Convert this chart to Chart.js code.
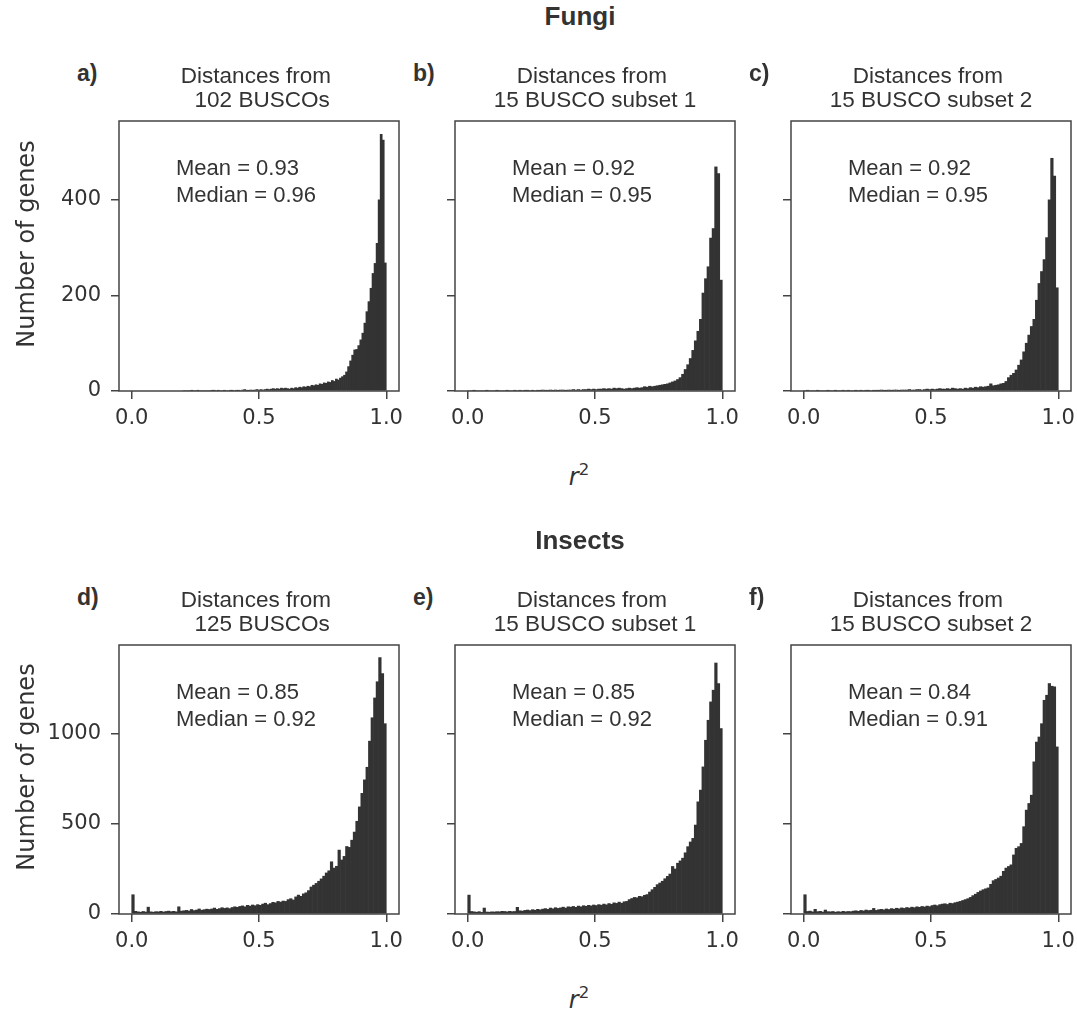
<!DOCTYPE html>
<html><head><meta charset="utf-8">
<script src="https://cdn.jsdelivr.net/npm/chart.js@4.4.1/dist/chart.umd.min.js"></script>
<style>
html,body{margin:0;padding:0;background:#fff;}
#fig{position:relative;width:1077px;height:1014px;overflow:hidden;background:#fff;}
#fig canvas{position:absolute;}
.t{position:absolute;white-space:pre;color:#333;line-height:1;}
</style></head><body><div id="fig"></div>
<script>
// ---------------- DATA ----------------
const xTicks = [0, 0.5, 1.0];
const fungiYTicks = [0, 200, 400];
const insectYTicks = [0, 500, 1000];

// Fungi a) 102 BUSCOs : 100 bins from 0.2 to 1.0
const fungiAllStart = 0.2, fungiAllWidth = 0.008;
const fungiAllCounts = [
  0,0,0,0,1,0,0,1,0,0,
  0,0,0,0,1,1,0,1,0,0,
  1,0,0,1,1,0,1,1,0,2,
  3,1,1,2,1,2,3,2,3,2,
  3,4,3,4,5,4,5,4,6,5,
  6,5,4,6,5,7,6,8,7,9,
  8,10,9,12,11,13,12,15,14,17,
  16,19,18,22,20,25,23,27,30,33,
  40,51,63,75,86,87,95,107,121,142,
  166,187,215,246,267,309,400,537,525,268
];
// Fungi b) 15 BUSCO subset 1 : 100 bins from 0 to 1
const fungiSub1Start = 0.0, fungiSub1Width = 0.01;
const fungiSub1Counts = [
  0,0,1,0,0,0,0,1,0,0,
  0,1,0,0,0,1,0,0,1,0,
  1,0,1,1,0,1,0,1,1,2,
  1,1,2,1,2,1,2,2,1,2,
  2,3,2,3,2,3,3,4,3,4,
  3,4,4,5,4,5,4,6,5,6,
  5,4,5,6,5,6,7,6,7,9,
  8,10,9,10,11,12,13,14,15,17,
  19,21,24,28,35,45,55,68,85,105,
  125,150,205,235,260,320,340,469,455,232
];
// Fungi c) 15 BUSCO subset 2
const fungiSub2Start = 0.0, fungiSub2Width = 0.01;
const fungiSub2Counts = [
  0,1,0,0,0,1,0,0,0,1,
  0,0,1,0,0,1,0,1,0,0,
  1,0,1,0,1,1,0,1,1,1,
  2,1,1,2,1,2,2,1,2,2,
  2,3,2,2,3,3,2,3,4,3,
  4,3,4,5,4,4,5,4,6,5,
  4,5,4,6,5,7,6,8,7,9,
  8,9,10,15,11,12,13,15,16,20,
  28,33,37,44,54,65,82,100,117,135,
  150,190,225,250,275,321,400,487,450,216
];
// Insects d) 125 BUSCOs
const insectAllStart = 0.0, insectAllWidth = 0.01;
const insectAllCounts = [
  107,15,12,10,14,11,38,12,10,13,
  12,15,11,14,16,13,15,12,40,16,
  18,20,17,25,19,22,28,21,24,27,
  25,28,33,26,30,35,31,34,30,36,
  40,37,42,45,40,48,44,50,46,52,
  48,55,60,52,58,65,62,70,66,72,
  70,80,85,78,95,105,98,112,118,130,
  150,160,170,182,195,210,228,240,290,255,
  265,355,300,320,375,370,410,455,515,595,
  670,745,815,960,1090,1200,1290,1424,1335,1057
];
// Insects e) 15 BUSCO subset 1
const insectSub1Start = 0.0, insectSub1Width = 0.01;
const insectSub1Counts = [
  105,14,12,10,13,9,33,11,10,12,
  11,13,12,15,14,12,15,13,14,37,
  18,16,20,22,19,24,21,26,23,27,
  30,26,33,29,35,31,34,38,33,40,
  38,42,37,44,40,46,43,48,45,50,
  47,52,49,55,51,58,54,62,59,66,
  60,68,70,80,86,92,90,98,96,104,
  108,122,135,148,163,172,182,196,209,222,
  264,250,282,295,310,340,374,400,420,494,
  623,688,817,965,1076,1178,1243,1394,1280,1030
];
// Insects f) 15 BUSCO subset 2
const insectSub2Start = 0.0, insectSub2Width = 0.01;
const insectSub2Counts = [
  107,14,16,12,26,13,15,11,22,13,
  12,14,10,13,11,15,12,14,13,16,
  18,15,20,17,22,19,21,31,20,24,
  26,23,28,25,30,27,32,29,34,31,
  36,33,38,35,40,37,42,39,44,41,
  47,50,46,52,55,57,53,60,58,63,
  66,70,75,80,85,92,102,110,120,128,
  135,140,145,165,185,192,200,210,237,255,
  264,273,328,365,374,392,485,577,614,660,
  845,955,983,1057,1187,1215,1280,1265,1261,928
];

const groupTitles = ['Fungi', 'Insects'];
const yAxisLabel = 'Number of genes';
const panelLetters = ['a)','b)','c)','d)','e)','f)'];
const panelTitles = [
  ['Distances from ', ' 102 BUSCOs'],
  ['Distances from ', '15 BUSCO subset 1'],
  ['Distances from ', '15 BUSCO subset 2'],
  ['Distances from ', ' 125 BUSCOs'],
  ['Distances from ', '15 BUSCO subset 1'],
  ['Distances from ', '15 BUSCO subset 2']
];
const meanValues = ['0.93','0.92','0.92','0.85','0.85','0.84'];
const medianValues = ['0.96','0.95','0.95','0.92','0.92','0.91'];

// ---------------- LAYOUT ----------------
const fig = document.getElementById('fig');
const INK = '#333333';
const ARIAL = '"Liberation Sans", Arial, Helvetica, sans-serif';
const DEJAVU = '"DejaVu Sans", sans-serif';

function text(str, x, baseline, size, family, opts = {}) {
  const d = document.createElement('div');
  d.className = 't';
  d.textContent = str;
  d.style.fontFamily = family;
  d.style.fontSize = size + 'px';
  d.style.fontWeight = opts.bold ? 'bold' : 'normal';
  d.style.left = x + 'px';
  d.style.top = (baseline - 0.8465 * size) + 'px';
  if (opts.center) d.style.transform = 'translateX(-50%)';
  fig.appendChild(d);
  return d;
}

const framePlugin = {
  id: 'frame',
  afterDraw(chart) {
    const { ctx, chartArea: a } = chart;
    ctx.save();
    ctx.strokeStyle = '#444';
    ctx.lineWidth = 1.5;
    ctx.strokeRect(a.left, a.top, a.right - a.left, a.bottom - a.top);
    ctx.restore();
  }
};

const colLeft = [119, 455, 791];
const rowTop = [121, 645];
const rowHeight = [270, 269];
const plotW = 280;
const PAD_L = 110, PAD_T = 35, PAD_R = 25, PAD_B = 45;

const panelData = [
  { counts: fungiAllCounts, start: fungiAllStart, width: fungiAllWidth },
  { counts: fungiSub1Counts, start: fungiSub1Start, width: fungiSub1Width },
  { counts: fungiSub2Counts, start: fungiSub2Start, width: fungiSub2Width },
  { counts: insectAllCounts, start: insectAllStart, width: insectAllWidth },
  { counts: insectSub1Counts, start: insectSub1Start, width: insectSub1Width },
  { counts: insectSub2Counts, start: insectSub2Start, width: insectSub2Width }
];
const rowYMax = [565, 1494];
const rowYTicks = [fungiYTicks, insectYTicks];

panelData.forEach((p, idx) => {
  const row = Math.floor(idx / 3), col = idx % 3;
  const L = colLeft[col], T = rowTop[row], H = rowHeight[row];
  const cv = document.createElement('canvas');
  const cw = PAD_L + plotW + PAD_R, ch = PAD_T + H + PAD_B;
  cv.width = cw; cv.height = ch;
  cv.style.left = (L - PAD_L) + 'px';
  cv.style.top = (T - PAD_T) + 'px';
  cv.style.width = cw + 'px'; cv.style.height = ch + 'px';
  fig.appendChild(cv);

  const pts = p.counts.map((c, i) => ({ x: p.start + p.width * (i + 0.5), y: c }));
  const tickFont = { family: DEJAVU, size: 21 };
  const gridOpts = { display: true, offset: false, drawOnChartArea: false, drawTicks: true, tickLength: 8, color: '#444', lineWidth: 1.5 };

  new Chart(cv.getContext('2d'), {
    type: 'bar',
    data: { datasets: [{ data: pts, backgroundColor: INK, borderWidth: 0, barPercentage: 1, categoryPercentage: 1 }] },
    options: {
      responsive: false, animation: false, devicePixelRatio: 1,
      layout: { padding: { left: 0, top: PAD_T, right: PAD_R, bottom: 0 } },
      plugins: { legend: { display: false }, tooltip: { enabled: false } },
      scales: {
        x: {
          type: 'linear', min: -0.05, max: 1.05, offset: false,
          afterBuildTicks: s => { s.ticks = xTicks.map(v => ({ value: v })); },
          afterFit: s => { s.height = PAD_B; },
          grid: gridOpts, border: { display: false },
          ticks: { font: tickFont, color: INK, padding: 7, maxRotation: 0, autoSkip: false,
                   callback: v => Number(v).toFixed(1) }
        },
        y: {
          min: 0, max: rowYMax[row],
          afterBuildTicks: s => { s.ticks = rowYTicks[row].map(v => ({ value: v })); },
          afterFit: s => { s.width = PAD_L; },
          grid: gridOpts, border: { display: false },
          ticks: { display: col === 0, font: tickFont, color: INK, padding: 10, autoSkip: false,
                   callback: v => String(v) }
        }
      }
    },
    plugins: [framePlugin]
  });

  // texts
  const cx = L + plotW / 2;
  text(panelLetters[idx], L - 42, T - 39.5, 23, ARIAL, { bold: true });
  text(panelTitles[idx][0], cx, T - 36.5, 22.5, ARIAL, { center: true });
  text(panelTitles[idx][1], cx, T - 13.3, 22.5, ARIAL, { center: true });
  text('Mean = ' + meanValues[idx], L + 57, T + 54.5, 22, ARIAL);
  text('Median = ' + medianValues[idx], L + 57, T + 81.5, 22, ARIAL);
});

// group titles
text(groupTitles[0], 580, 25.5, 26, ARIAL, { bold: true, center: true });
text(groupTitles[1], 580, 549.5, 26, ARIAL, { bold: true, center: true });

// y labels
[243.5, 767].forEach(cy => {
  const d = document.createElement('div');
  d.className = 't';
  d.textContent = yAxisLabel;
  d.style.fontFamily = DEJAVU;
  d.style.fontSize = '24px';
  d.style.left = '26px';
  d.style.top = cy + 'px';
  d.style.transform = 'translate(-50%,-50%) rotate(-90deg)';
  fig.appendChild(d);
});

// x labels r^2
[485, 1008].forEach(base => {
  const d = text('', 579, base, 24, DEJAVU, { center: true });
  d.innerHTML = '<span style="font-style:italic">r</span><span style="font-size:16.5px;position:relative;top:-10px">2</span>';
});
</script>
</body></html>
